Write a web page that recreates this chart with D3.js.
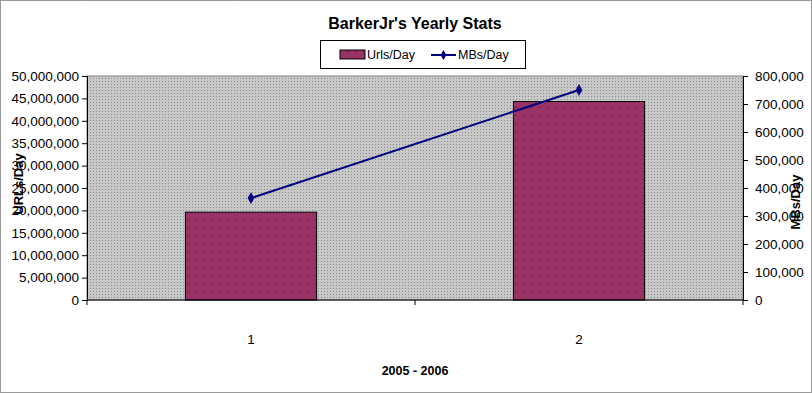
<!DOCTYPE html>
<html>
<head>
<meta charset="utf-8">
<script src="https://cdn.jsdelivr.net/npm/d3@7"></script>
<style>
  body { margin: 0; background: #fff; }
  svg text { font-family: "Liberation Sans", Arial, sans-serif; }
</style>
</head>
<body>
<svg id="chart" width="812" height="393"></svg>
<script>
// dados
const categorias = ['1', '2'];
const urlsPorDia = [19600000, 44300000];
const mbsPorDia = [364000, 750000];
const ticksEsq = [0, 5e6, 10e6, 15e6, 20e6, 25e6, 30e6, 35e6, 40e6, 45e6, 50e6];
const ticksDir = [0, 100000, 200000, 300000, 400000, 500000, 600000, 700000, 800000];

const W = 812, H = 393;
const M = { left: 87, right: 743, top: 76, bottom: 300 };

const $svg = d3.select('#chart');
const defs = $svg.append('defs');

// padrão pontilhado do fundo
const pFundo = defs.append('pattern')
  .attr('id', 'fundo').attr('width', 3).attr('height', 3)
  .attr('patternUnits', 'userSpaceOnUse');
pFundo.append('rect').attr('width', 3).attr('height', 3).attr('fill', '#c8c8c8');
pFundo.append('rect').attr('x', 0).attr('y', 0).attr('width', 1).attr('height', 1).attr('fill', '#8c8c8c');

const pBarra = defs.append('pattern')
  .attr('id', 'barra').attr('width', 8).attr('height', 8)
  .attr('patternUnits', 'userSpaceOnUse');
pBarra.append('rect').attr('width', 8).attr('height', 8).attr('fill', '#993366');
pBarra.append('rect').attr('x', 3).attr('y', 3).attr('width', 1).attr('height', 1).attr('fill', '#4a1030');

// borda externa pontilhada
$svg.append('rect')
  .attr('x', 0.5).attr('y', 0.5).attr('width', W - 1).attr('height', H - 1)
  .attr('fill', '#fff').attr('stroke', '#333').attr('stroke-dasharray', '1,1');

const x = d3.scaleBand().domain(categorias).range([M.left, M.right]).paddingInner(0.6).paddingOuter(0.3);
const xPos = d3.scalePoint().domain(categorias).range([M.left, M.right]).padding(0.5);
const yEsq = d3.scaleLinear().domain([0, 50e6]).range([M.bottom, M.top]);
const yDir = d3.scaleLinear().domain([0, 800000]).range([M.bottom, M.top]);

// área do gráfico
$svg.append('rect')
  .attr('x', M.left).attr('y', M.top)
  .attr('width', M.right - M.left).attr('height', M.bottom - M.top)
  .attr('fill', 'url(#fundo)').attr('stroke', '#808080');

// barras
$svg.selectAll('rect.barra')
  .data(urlsPorDia)
  .enter().append('rect')
  .attr('class', 'barra')
  .attr('x', (d, i) => x(categorias[i]))
  .attr('y', d => yEsq(d))
  .attr('width', x.bandwidth())
  .attr('height', d => yEsq(0) - yEsq(d))
  .attr('fill', 'url(#barra)')
  .attr('stroke', '#000').attr('stroke-width', 1);

// linha
const linha = d3.line()
  .x((d, i) => xPos(categorias[i]))
  .y(d => yDir(d));
$svg.append('path')
  .datum(mbsPorDia)
  .attr('d', linha)
  .attr('fill', 'none').attr('stroke', '#000080').attr('stroke-width', 2);
$svg.selectAll('path.losango')
  .data(mbsPorDia)
  .enter().append('path')
  .attr('class', 'losango')
  .attr('d', d3.symbol(d3.symbolDiamond, 40))
  .attr('transform', (d, i) => `translate(${xPos(categorias[i])},${yDir(d)})`)
  .attr('fill', '#000080');

// eixos
const fmt = d3.format(',');
$svg.append('g')
  .attr('transform', `translate(${M.left},0)`)
  .call(d3.axisLeft(yEsq).tickValues(ticksEsq).tickFormat(fmt).tickSize(5).tickPadding(3))
  .call(g => g.select('.domain').attr('stroke', '#000'))
  .call(g => g.selectAll('text').attr('font-size', 13.5).attr('fill', '#000'));

$svg.append('g')
  .attr('transform', `translate(${M.right},0)`)
  .call(d3.axisRight(yDir).tickValues(ticksDir).tickFormat(fmt).tickSize(5).tickPadding(7))
  .call(g => g.select('.domain').attr('stroke', '#000'))
  .call(g => g.selectAll('text').attr('font-size', 13.5).attr('fill', '#000'));

// eixo x: marcas nas divisas das categorias
const divisas = [M.left, (M.left + M.right) / 2, M.right];
$svg.append('line')
  .attr('x1', M.left).attr('x2', M.right).attr('y1', M.bottom).attr('y2', M.bottom)
  .attr('stroke', '#000');
$svg.selectAll('line.divisa')
  .data(divisas)
  .enter().append('line')
  .attr('x1', d => d).attr('x2', d => d)
  .attr('y1', M.bottom).attr('y2', M.bottom + 5)
  .attr('stroke', '#000');
$svg.selectAll('text.cat')
  .data(categorias)
  .enter().append('text')
  .attr('x', d => xPos(d)).attr('y', 344)
  .attr('text-anchor', 'middle').attr('font-size', 13.5)
  .text(d => d);

// títulos
$svg.append('text')
  .attr('x', 415).attr('y', 29)
  .attr('text-anchor', 'middle').attr('font-size', 16).attr('font-weight', 'bold')
  .text("BarkerJr's Yearly Stats");

$svg.append('text')
  .attr('x', 415).attr('y', 375)
  .attr('text-anchor', 'middle').attr('font-size', 12.5).attr('font-weight', 'bold')
  .text('2005 - 2006');

$svg.append('text')
  .attr('transform', 'translate(23,184) rotate(-90)')
  .attr('text-anchor', 'middle').attr('font-size', 13).attr('font-weight', 'bold')
  .text('URLs/Day');

$svg.append('text')
  .attr('transform', 'translate(800,202) rotate(-90)')
  .attr('text-anchor', 'middle').attr('font-size', 13).attr('font-weight', 'bold')
  .text('MBs/Day');

// legenda
const leg = $svg.append('g');
leg.append('rect')
  .attr('x', 320.5).attr('y', 40.5).attr('width', 205).attr('height', 28)
  .attr('fill', '#fff').attr('stroke', '#000');
leg.append('rect')
  .attr('x', 340).attr('y', 50).attr('width', 25).attr('height', 9)
  .attr('fill', 'url(#barra)').attr('stroke', '#000');
leg.append('text').attr('x', 367).attr('y', 59).attr('font-size', 12.5).text('Urls/Day');
leg.append('line')
  .attr('x1', 431).attr('x2', 456).attr('y1', 55).attr('y2', 55)
  .attr('stroke', '#000080').attr('stroke-width', 2);
leg.append('path')
  .attr('d', d3.symbol(d3.symbolDiamond, 30))
  .attr('transform', 'translate(443.5,55)')
  .attr('fill', '#000080');
leg.append('text').attr('x', 458).attr('y', 59).attr('font-size', 12.5).text('MBs/Day');
</script>
</body>
</html>
